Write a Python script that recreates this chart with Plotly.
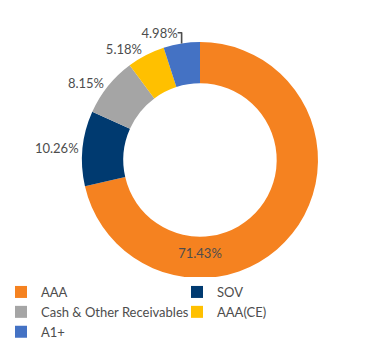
import plotly.graph_objects as go

categories = ["AAA", "SOV", "Cash & Other Receivables", "AAA(CE)", "A1+"]
values = [71.43, 10.26, 8.15, 5.18, 4.98]
colors = ["#F58220", "#003A70", "#A5A5A5", "#FFC000", "#4472C4"]
text_labels = ["71.43%", "10.26%", "8.15%", "5.18%", "4.98%"]

W, H = 369, 360
OFF = 8  # page body offset

fig = go.Figure(go.Pie(
    labels=categories,
    values=values,
    text=text_labels,
    textinfo="text",
    textposition=["inside", "outside", "outside", "outside", "outside"],
    hole=0.65,
    sort=False,
    direction="clockwise",
    rotation=0,
    marker=dict(colors=colors, line=dict(width=0)),
    insidetextfont=dict(color="#4d4d4d", size=13, family="Lato"),
    outsidetextfont=dict(color="#4d4d4d", size=13, family="Lato"),
    insidetextorientation="horizontal",
    domain=dict(x=[(82 - OFF) / W, (318 - OFF) / W],
                y=[1 - (278 - OFF) / H, 1 - (42 - OFF) / H]),
    showlegend=True,
))

fig.update_layout(
    width=W, height=H,
    margin=dict(l=0, r=0, t=0, b=0),
    paper_bgcolor="white",
    plot_bgcolor="white",
    font=dict(family="Lato", size=13, color="#4d4d4d"),
    legend=dict(
        orientation="h",
        x=0.0, xanchor="left",
        y=1 - 269 / H, yanchor="top",
        entrywidth=138, entrywidthmode="pixels",
        indentation=-7,
        traceorder="normal",
        font=dict(size=13, color="#4d4d4d", family="Lato"),
        itemwidth=30,
        tracegroupgap=0,
    ),
)

fig.write_html("out.html")
